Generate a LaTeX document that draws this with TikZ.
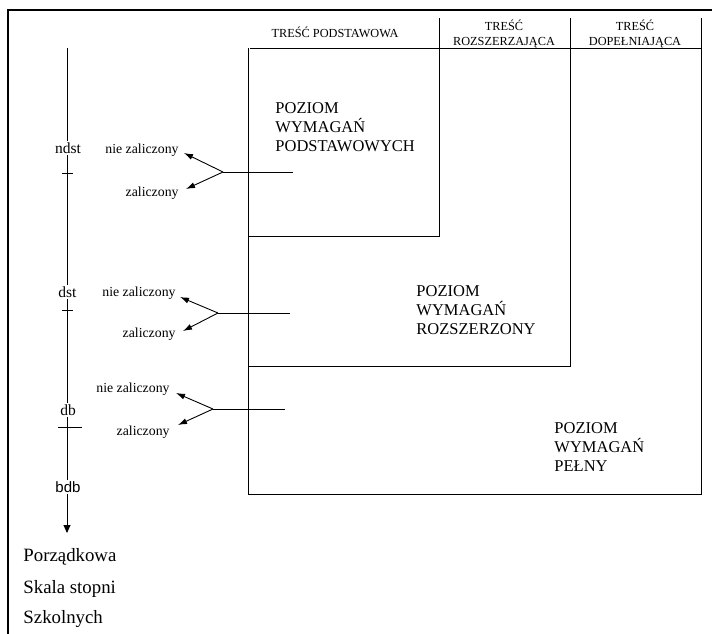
\documentclass[tikz,border=0pt]{standalone}
\usepackage{fontspec}
\setmainfont{Liberation Serif}
\newfontfamily\sansfam{Liberation Sans}
\usetikzlibrary{arrows.meta}
\begin{document}
\begin{tikzpicture}[x=1pt,y=-1pt, line width=0.9pt,
  outerframe/.style={line width=1.4pt},
  hdr/.style={font=\fontsize{12.3}{15.5}\selectfont, inner sep=0pt, align=center},
  lvl/.style={font=\fontsize{16.5}{19}\selectfont, inner sep=0pt, align=left, anchor=north west},
  grade/.style={font=\fontsize{15.5}{17}\selectfont, fill=white, inner sep=1.5pt},
  res/.style={font=\fontsize{13.8}{16}\selectfont, inner sep=0pt, anchor=base east},
  branch/.style={-{Latex[length=9pt,width=6pt]}},
  scaletxt/.style={font=\fontsize{18.8}{22}\selectfont, inner sep=0pt, anchor=base west}]
\useasboundingbox (0,0) rectangle (712,634);

% outer frame
\draw[outerframe] (8,634) -- (8,10) -- (712,10);

% table of contents / levels
\draw (250,48) -- (701,48);
\draw (439,18) -- (439,236) -- (248,236);
\draw (570,18) -- (570,366) -- (248,366);
\draw (701,18) -- (701,494) -- (248,494);
\draw (248,48) -- (248,494);

\node[hdr, anchor=base] (h1) at (335,38) {TREŚĆ PODSTAWOWA};
\node[hdr, anchor=north] (h2) at (504,19) {TREŚĆ\\ROZSZERZAJĄCA};
\node[hdr, anchor=north] (h3) at (635,19) {TREŚĆ\\DOPEŁNIAJĄCA};

\node[lvl] (l1) at (275,102) {POZIOM\\WYMAGAŃ\\PODSTAWOWYCH};
\node[lvl] (l2) at (416,285) {POZIOM\\WYMAGAŃ\\ROZSZERZONY};
\node[lvl] (l3) at (554,422) {POZIOM\\WYMAGAŃ\\PEŁNY};

% axis
\coordinate (axtop) at (67,48);
\coordinate (axend) at (67,533);
\draw[-{Triangle[length=8pt,width=7pt]}] (axtop) -- (axend);
\node[grade, anchor=base] (ndst) at (68,153) {ndst};
\node[grade, anchor=base] (dst) at (67.5,297) {dst};
\node[grade, anchor=base] (db) at (68,415) {db};
\node[grade, font=\sansfam\fontsize{15}{17}\selectfont] (bdb) at (68,487) {bdb};
\draw (62,173) -- (73,173);
\draw (62,310) -- (73,310);
\draw (58,427) -- (82,427);

% branches
\coordinate (j1) at (223,172); \coordinate (e1) at (293,172);
\coordinate (t1a) at (184,153); \coordinate (t1b) at (186,189);
\draw (j1) -- (e1);
\draw[branch] (j1) -- (t1a);
\draw[branch] (j1) -- (t1b);
\node[res] (nz1) at (179,153) {nie zaliczony};
\node[res] (z1) at (179,196) {zaliczony};

\coordinate (j2) at (218,313); \coordinate (e2) at (290,313);
\coordinate (t2a) at (180,297); \coordinate (t2b) at (183,331);
\draw (j2) -- (e2);
\draw[branch] (j2) -- (t2a);
\draw[branch] (j2) -- (t2b);
\node[res] (nz2) at (176,296) {nie zaliczony};
\node[res] (z2) at (176,337) {zaliczony};

\coordinate (j3) at (213,409); \coordinate (e3) at (285,409);
\coordinate (t3a) at (176,393); \coordinate (t3b) at (178,425);
\draw (j3) -- (e3);
\draw[branch] (j3) -- (t3a);
\draw[branch] (j3) -- (t3b);
\node[res] (nz3) at (170,392) {nie zaliczony};
\node[res] (z3) at (170,435) {zaliczony};

% scale caption
\node[scaletxt] (s1) at (23,561) {Porządkowa};
\node[scaletxt] (s2) at (23,593) {Skala stopni};
\node[scaletxt] (s3) at (23,623) {Szkolnych};
\end{tikzpicture}
\end{document}
